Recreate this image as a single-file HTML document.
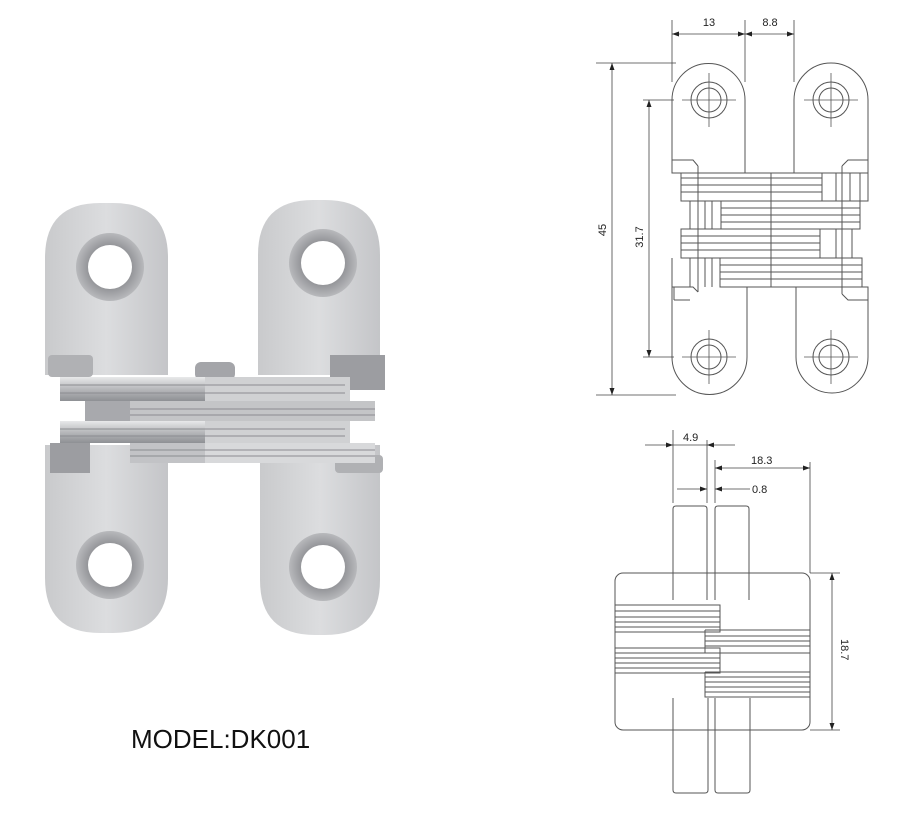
<!DOCTYPE html>
<html><head><meta charset="utf-8"><style>
html,body{margin:0;padding:0;background:#fff;width:910px;height:824px;overflow:hidden}
svg{display:block}
</style></head><body>
<svg width="910" height="824" viewBox="0 0 910 824" xmlns="http://www.w3.org/2000/svg">
<defs>
<linearGradient id="leaf" x1="0" y1="0" x2="1" y2="0">
<stop offset="0" stop-color="#c9cacc"/><stop offset="0.5" stop-color="#dcdddf"/><stop offset="1" stop-color="#c4c5c8"/>
</linearGradient>
<linearGradient id="band" x1="0" y1="0" x2="0" y2="1">
<stop offset="0" stop-color="#e8e9ea"/><stop offset="0.5" stop-color="#b8b9bc"/><stop offset="1" stop-color="#8e9094"/>
</linearGradient>
<radialGradient id="hole" cx="0.5" cy="0.5" r="0.5">
<stop offset="0.6" stop-color="#909195"/><stop offset="1" stop-color="#b8b9bc"/>
</radialGradient>
</defs>

<!-- PHOTO -->
<g>
<path d="M45,375 V258 Q45,203 100,203 H113 Q168,203 168,258 V375 Z" fill="url(#leaf)"/>
<path d="M258,375 V255 Q258,200 313,200 H325 Q380,200 380,255 V375 Z" fill="url(#leaf)"/>
<path d="M45,445 V578 Q45,633 100,633 H113 Q168,633 168,578 V445 Z" fill="url(#leaf)"/>
<path d="M260,445 V580 Q260,635 315,635 H325 Q380,635 380,580 V445 Z" fill="url(#leaf)"/>
<circle cx="110" cy="267" r="34" fill="url(#hole)"/><circle cx="110" cy="267" r="22" fill="#fff"/>
<circle cx="323" cy="263" r="34" fill="url(#hole)"/><circle cx="323" cy="263" r="22" fill="#fff"/>
<circle cx="110" cy="565" r="34" fill="url(#hole)"/><circle cx="110" cy="565" r="22" fill="#fff"/>
<circle cx="323" cy="567" r="34" fill="url(#hole)"/><circle cx="323" cy="567" r="22" fill="#fff"/>
<rect x="48" y="355" width="45" height="22" rx="4" fill="#b0b1b4"/>
<rect x="330" y="355" width="55" height="35" fill="#9c9da1"/>
<rect x="50" y="443" width="40" height="30" fill="#9c9da1"/>
<rect x="335" y="455" width="48" height="18" rx="4" fill="#b0b1b4"/>
<rect x="195" y="362" width="40" height="18" rx="6" fill="#a4a5a9"/>
<rect x="60" y="377" width="285" height="24" fill="url(#band)"/>
<rect x="205" y="377" width="145" height="24" fill="#d0d1d3"/>
<rect x="85" y="401" width="290" height="20" fill="#c4c5c7"/>
<rect x="85" y="401" width="45" height="40" fill="#a8a9ad"/>
<rect x="60" y="421" width="285" height="22" fill="url(#band)"/>
<rect x="205" y="421" width="145" height="22" fill="#d0d1d3"/>
<rect x="130" y="443" width="245" height="20" fill="#c2c3c6"/>
<rect x="205" y="443" width="170" height="20" fill="#d8d9db"/>
<g stroke="#8b8c90" stroke-width="1">
<line x1="60" y1="385" x2="345" y2="385"/><line x1="60" y1="393" x2="345" y2="393"/>
<line x1="130" y1="409" x2="375" y2="409"/><line x1="130" y1="415" x2="375" y2="415"/>
<line x1="60" y1="429" x2="345" y2="429"/><line x1="60" y1="436" x2="345" y2="436"/>
<line x1="130" y1="450" x2="375" y2="450"/><line x1="130" y1="456" x2="375" y2="456"/>
</g>
</g>

<text x="131" y="748" font-family="Liberation Sans, sans-serif" font-size="26" fill="#111">MODEL:DK001</text>

<!-- TOP DRAWING -->
<g fill="none" stroke="#555" stroke-width="1">
<path d="M672,173 L672,100 A36.5,36.5 0 0 1 745,100 L745,173"/>
<path d="M794,173 L794,100 A37,37 0 0 1 868,100 L868,200"/>
<path d="M672,287 L672,357 A37.5,37.5 0 0 0 747,357 L747,287"/>
<path d="M796,287 L796,357 A36,36 0 0 0 868,357 L868,287"/>
<path d="M672,160 L672,173 L681,173 M672,160 L693,160 L698,166"/>
<path d="M868,160 L848,160 L842,166"/>
<path d="M672,258 L672,287 L674,287 L674,300 M674,287 L693,287 L698,292 M674,300 L690,300"/>
<path d="M862,287 L868,287 L868,300 L848,300 L842,294"/>
<circle cx="709" cy="100" r="18"/><circle cx="709" cy="100" r="12"/>
<circle cx="831" cy="100" r="18"/><circle cx="831" cy="100" r="12"/>
<circle cx="709" cy="357" r="18"/><circle cx="709" cy="357" r="12"/>
<circle cx="831" cy="357" r="18"/><circle cx="831" cy="357" r="12"/>
<path d="M709,73 V127 M682,100 H736 M831,73 V127 M804,100 H858 M709,330 V384 M682,357 H736 M831,330 V384 M804,357 H858" stroke-width="0.8"/>
<rect x="681" y="173" width="141" height="28"/>
<path d="M681,178 H822 M681,185 H822 M681,192 H822"/>
<path d="M822,173 H868 V201 H822 M836,173 V201 M850,173 V201 M860,173 V201"/>
<rect x="721" y="201" width="139" height="28"/>
<path d="M721,208 H860 M721,215 H860 M721,222 H860"/>
<path d="M690,201 V229 M705,201 V229 M712,201 V229"/>
<rect x="681" y="229" width="139" height="29"/>
<path d="M681,236 H820 M681,243 H820 M681,250 H820"/>
<path d="M820,229 V258 M836,229 V258 M852,229 V258"/>
<rect x="720" y="258" width="142" height="29"/>
<path d="M720,265 H862 M720,272 H862 M720,279 H862"/>
<path d="M690,258 V287 M705,258 V287 M712,258 V287"/>
<path d="M698,166 V292 M771,173 V287 M842,166 V294"/>
</g>
<g stroke="#444" stroke-width="0.8" fill="none">
<path d="M672,20 V82 M745,20 V82 M794,20 V82"/>
<path d="M672,34 H794"/>
<path d="M596,63 H676 M596,395 H676 M643,100 H674 M643,357 H674"/>
<path d="M612,63 V395 M649,100 V357"/>
</g>
<g fill="#222">
<path d="M672,34 l7,-2.5 v5 z M745,34 l-7,-2.5 v5 z M745,34 l7,-2.5 v5 z M794,34 l-7,-2.5 v5 z"/>
<path d="M612,63 l-2.5,7 h5 z M612,395 l-2.5,-7 h5 z M649,100 l-2.5,7 h5 z M649,357 l-2.5,-7 h5 z"/>
</g>
<g font-family="Liberation Sans, sans-serif" font-size="11" fill="#222" text-anchor="middle">
<text x="709" y="26">13</text>
<text x="770" y="26">8.8</text>
<text transform="translate(606,230) rotate(-90)">45</text>
<text transform="translate(643,237) rotate(-90)">31.7</text>
</g>

<!-- BOTTOM DRAWING -->
<g fill="none" stroke="#555" stroke-width="1">
<path d="M673,600 V509 Q673,506 676,506 H704 Q707,506 707,509 V600"/>
<path d="M715,600 V509 Q715,506 718,506 H746 Q749,506 749,509 V600"/>
<path d="M673,698 V790 Q673,793 676,793 H705 Q708,793 708,790 V698"/>
<path d="M715,698 V790 Q715,793 718,793 H747 Q750,793 750,790 V698"/>
<rect x="615" y="573" width="195" height="157" rx="8"/>
<path d="M615,605 H720 V632 H615 M615,611 H720 M615,617 H720 M615,622 H720 M615,627 H720"/>
<path d="M615,648 H720 V673 H615 M615,653 H720 M615,658 H720 M615,663 H720 M615,668 H720"/>
<path d="M705,630 H810 M705,630 V653 H810 M705,636 H810 M705,641 H810 M705,646 H810"/>
<path d="M705,672 H810 M705,672 V697 H810 M705,677 H810 M705,682 H810 M705,687 H810 M705,692 H810"/>
</g>
<g stroke="#444" stroke-width="0.8" fill="none">
<path d="M673,430 V503 M707,440 V503 M715,460 V503 M810,462 V573"/>
<path d="M645,445 H735 M715,468 H810 M677,489 H707 M715,489 H750"/>
<path d="M810,573 H840 M810,730 H840 M832,573 V730"/>
</g>
<g fill="#222">
<path d="M673,445 l-7,-2.5 v5 z M707,445 l7,-2.5 v5 z M715,468 l7,-2.5 v5 z M810,468 l-7,-2.5 v5 z M707,489 l-7,-2.5 v5 z M715,489 l7,-2.5 v5 z M832,573 l-2.5,7 h5 z M832,730 l-2.5,-7 h5 z"/>
</g>
<g font-family="Liberation Sans, sans-serif" font-size="11" fill="#222">
<text x="683" y="441">4.9</text>
<text x="751" y="464">18.3</text>
<text x="752" y="493">0.8</text>
<text transform="translate(841,639) rotate(90)">18.7</text>
</g>
</svg>
</body></html>
